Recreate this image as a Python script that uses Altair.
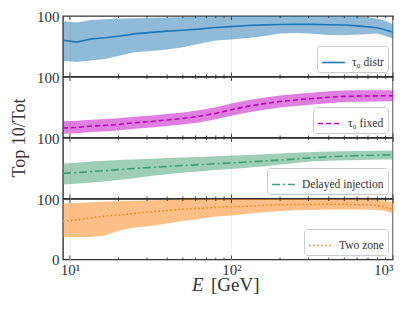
import altair as alt
import pandas as pd

# Energy grid (GeV)
E = [9.06, 11, 13.5, 16.5, 20, 25, 32, 40, 50, 63, 80, 100, 126, 160, 200, 250,
     320, 400, 500, 630, 800, 900, 1000]

# tau0 distr
blue_mean = [60, 56.8, 62, 64, 66.5, 70.5, 73, 75, 76.5, 78.3, 81, 82.5, 84.2, 85.3,
             86, 86.1, 86.1, 85.5, 85, 83.3, 80.5, 77, 73]
blue_hi = [91.7, 89.4, 93.3, 94.5, 95.5, 96.2, 97, 97.5, 98.3, 99, 100, 100, 100, 100,
           100, 100, 100, 100, 100, 99, 96, 92, 86]
blue_lo = [26, 24, 26.5, 29, 34, 40, 42, 44.5, 48.5, 54, 59.5, 61, 63.5, 67, 71, 72,
           70.5, 68.5, 68, 69.5, 71, 67, 63]

# tau0 fixed
mag_mean = [15.6, 16.5, 18.9, 20, 21.5, 24.4, 26.5, 29, 31.5, 35, 40, 46, 51.5, 56,
            59.5, 62, 64.5, 66.5, 68, 68.5, 68.8, 69, 69]
mag_hi = [27, 27.5, 29.5, 30.5, 32, 34.5, 36.5, 39, 41.5, 45, 50, 56, 61.5, 66, 69.5,
          72, 74.5, 76.5, 77.5, 78, 78.2, 78.3, 78.3]
mag_lo = [6, 7, 9, 10, 11.5, 14.5, 16.5, 19, 21.5, 25, 30, 36, 41.5, 46, 49.5, 52,
          54.5, 56.5, 58.5, 59, 59.5, 60, 60]

# Delayed injection
grn_mean = [41.8, 42.8, 44.5, 46, 47.7, 49.5, 51.5, 53, 54.5, 56, 57.5, 58.8, 60.3,
            62, 63.5, 65.2, 67.5, 69, 70, 71, 71.5, 72, 72]
grn_hi = [58, 59, 61, 62.6, 63.5, 64.5, 65.8, 66.8, 67.8, 68.7, 69.8, 70.9, 72, 73.3,
          74.5, 75.8, 77, 77.5, 78, 78.5, 79, 79, 79.1]
grn_lo = [23, 24.5, 26.5, 28, 30.5, 33.5, 37.5, 40, 42.5, 44.5, 47, 48.9, 50.8, 53.5,
          56, 58.5, 61.5, 62.6, 63.2, 63.8, 64.3, 64.3, 64.3]

# Two zone
org_mean = [63.5, 65.5, 68.5, 71.8, 73.5, 76, 79, 81, 83, 84.5, 86.2, 87.3, 88.3, 89.5,
            90.4, 90.8, 91, 91.2, 91.2, 90.5, 89.5, 86.5, 83]
org_hi = [92.8, 93.5, 94.8, 95.6, 96.5, 97.3, 97.8, 98.5, 99, 99.5, 100, 100, 100, 100,
          100, 100, 100, 100, 100, 100, 99, 97, 94]
org_lo = [37, 37, 37, 39.5, 47.5, 52.8, 55.2, 59.5, 63.5, 67, 71, 72.9, 75.5, 78, 80,
          81.3, 82, 82.5, 82.8, 82.5, 82, 80, 76]

major_ticks = [10, 100, 1000]
minor_ticks = [20, 30, 40, 50, 60, 70, 80, 90, 200, 300, 400, 500, 600, 700, 800, 900]

FONT = "Liberation Serif"
H = 60.5
W = 330

xscale = alt.Scale(type="log", domain=[9.06, 1000], nice=False)
yscale = alt.Scale(domain=[0, 100], nice=False)


def panel(name, mean, lo, hi, color, dash, yvals, last=False, ytitle=False):
    df = pd.DataFrame({"E": E, "mean": mean, "lo": lo, "hi": hi, "series": name})
    if last:
        xaxis = alt.Axis(values=major_ticks, title=None, grid=True, gridColor="#ebebeb",
                         gridWidth=0.8, ticks=False, domain=False, labelFont=FONT,
                         labelFontSize=15, labelColor="#333", labelPadding=3,
                         labelExpr="datum.value == 10 ? '10¹' : datum.value == 100 ? '10²' : '10³'")
    else:
        xaxis = alt.Axis(values=major_ticks, title=None, grid=True, gridColor="#ebebeb",
                         gridWidth=0.8, ticks=False, domain=False, labels=False)
    yaxis_kw = dict(values=yvals, grid=False, ticks=False, domain=False, labelFont=FONT,
                    labelFontSize=15, labelColor="#333", labelPadding=4)
    if ytitle:
        yaxis = alt.Axis(title="Top 10/Tot", titleFont=FONT, titleFontSize=18,
                         titleFontWeight="normal", titleColor="#333", titleAngle=270,
                         titleAlign="center", titleBaseline="middle", titleX=-44,
                         titleY=H, **yaxis_kw)
    else:
        yaxis = alt.Axis(title=None, **yaxis_kw)
    X = alt.X("E:Q", scale=xscale, axis=xaxis)
    Y = alt.Y("lo:Q", scale=yscale, axis=yaxis)
    base = alt.Chart(df)
    area = base.mark_area(color=color, opacity=0.5, clip=True).encode(x=X, y=Y, y2="hi:Q")
    leg = dict(title=None, orient="bottom-right", symbolType="stroke", symbolSize=520,
               symbolStrokeWidth=1.6, labelFont=FONT, labelFontSize=11.5, labelColor="#333",
               strokeColor="#cccccc", cornerRadius=3, fillColor="rgba(255,255,255,0.85)",
               padding=4, offset=5, labelOffset=6)
    line_kw = dict(strokeWidth=1.6, clip=True)
    if dash:
        leg["symbolDash"] = dash
        line_kw["strokeDash"] = dash
    line = base.mark_line(**line_kw).encode(
        x=X, y=alt.Y("mean:Q", scale=yscale, axis=yaxis),
        color=alt.Color("series:N", scale=alt.Scale(domain=[name], range=[color]),
                        legend=alt.Legend(**leg)))
    layers = [area, line]
    for vals, ln in ((major_ticks, 4), (minor_ticks, 2)):
        tdf = pd.DataFrame({"E": vals})
        for y0, y1 in ((0, ln), (H - ln, H)):
            layers.append(alt.Chart(tdf).mark_rule(color="#333", strokeWidth=0.9).encode(
                x=X, y=alt.value(y0), y2=alt.value(y1)))
    if last:
        one = pd.DataFrame({"t": [0]})
        layers.append(alt.Chart(one).mark_text(text="E", font=FONT, fontSize=19,
                                               fontStyle="italic", align="left",
                                               baseline="alphabetic", color="#333").encode(
            x=alt.value(129), y=alt.value(92)))
        layers.append(alt.Chart(one).mark_text(text="[GeV]", font=FONT, fontSize=19,
                                               align="left", baseline="alphabetic",
                                               color="#333").encode(
            x=alt.value(148), y=alt.value(92)))
    return alt.layer(*layers).properties(width=W, height=H)


p1 = panel("τ₀ distr", blue_mean, blue_lo, blue_hi, "#1f77b4", None, [100])
p2 = panel("τ₀ fixed", mag_mean, mag_lo, mag_hi, "#bf00bf", [5, 3], [100], ytitle=True)
p3 = panel("Delayed injection", grn_mean, grn_lo, grn_hi, "#3f9e72", [8, 3, 2, 3], [100])
p4 = panel("Two zone", org_mean, org_lo, org_hi, "#ff7f0e", [1.5, 2.5], [0, 100], last=True)

chart = alt.vconcat(p1, p2, p3, p4, spacing=0, bounds="flush").resolve_scale(
    color="independent").resolve_legend(color="independent").properties(
    padding={"left": 1, "top": 0, "right": 5, "bottom": 5}
).configure_view(stroke="#333", strokeWidth=1.4).configure_legend(
    labelFont=FONT, labelFontSize=11.5, labelColor="#333")

chart.save("out.html", embed_options={"renderer": "svg", "actions": False})
